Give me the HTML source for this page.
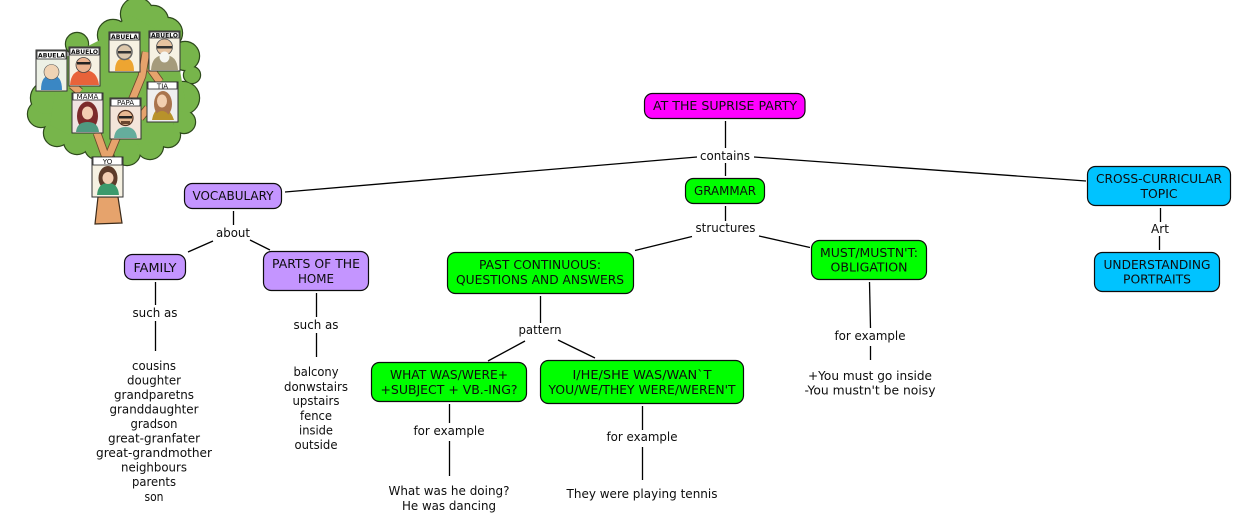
<!DOCTYPE html>
<html><head><meta charset="utf-8"><style>
html,body{margin:0;padding:0;background:#fff;width:1234px;height:523px;overflow:hidden}
svg{display:block;filter:blur(.3px)}
text{font-family:"DejaVu Sans","Liberation Sans",sans-serif;font-size:12.2px;fill:#0d0d0d;text-anchor:middle}
.b rect{stroke:#0c0c0c;stroke-width:1.2}
.l line{stroke:#000;stroke-width:1.3}
.f{stroke:#2e4a1c;stroke-width:2.4;fill:#2e4a1c}
.g{fill:#77b54b}
.p{fill:#f6f1e2;stroke:#333;stroke-width:1}
.s{fill:#fff;stroke:#222;stroke-width:.8}
text.t{font-size:6.5px;font-weight:bold}
.v{fill:none;stroke-linecap:butt}
</style></head><body>
<svg width="1234" height="523" viewBox="0 0 1234 523" xmlns="http://www.w3.org/2000/svg">
<!-- tree -->
<g class="f">
<circle cx="137" cy="14" r="16"/><circle cx="153" cy="21" r="15"/><circle cx="167" cy="33" r="15"/><circle cx="185" cy="56" r="14"/><circle cx="192" cy="75" r="8"/><circle cx="183" cy="98" r="16"/><circle cx="184" cy="122" r="11"/><circle cx="168" cy="135" r="12"/><circle cx="150" cy="146" r="13"/><circle cx="127" cy="152" r="13"/><circle cx="97" cy="147" r="12"/><circle cx="77" cy="141" r="13"/><circle cx="57" cy="133" r="13"/><circle cx="41" cy="114" r="13"/><circle cx="47" cy="98" r="16"/><circle cx="113" cy="35" r="15"/><circle cx="77" cy="44" r="11"/><circle cx="62" cy="75" r="18"/>
</g>
<g class="g">
<circle cx="137" cy="14" r="16"/><circle cx="153" cy="21" r="15"/><circle cx="167" cy="33" r="15"/><circle cx="185" cy="56" r="14"/><circle cx="192" cy="75" r="8"/><circle cx="183" cy="98" r="16"/><circle cx="184" cy="122" r="11"/><circle cx="168" cy="135" r="12"/><circle cx="150" cy="146" r="13"/><circle cx="127" cy="152" r="13"/><circle cx="97" cy="147" r="12"/><circle cx="77" cy="141" r="13"/><circle cx="57" cy="133" r="13"/><circle cx="41" cy="114" r="13"/><circle cx="47" cy="98" r="16"/><circle cx="113" cy="35" r="15"/><circle cx="77" cy="44" r="11"/><circle cx="62" cy="75" r="18"/>
<path d="M60 60L100 40L130 15L175 40L185 100L165 140L100 150L50 125Z"/>
</g>
<g class="v">
<path d="M97 133L106 158M108 158L142 76L146 52M150 68L160 82M140 118L148 108M72 85L80 92" stroke="#6b4a2c" stroke-width="8.500"/>
<path d="M97 133L106 158M108 158L142 76L146 52M150 68L160 82M140 118L148 108M72 85L80 92" stroke="#e6a36c" stroke-width="6.800"/>
</g>
<path d="M98 197L118 197L122 223L95 224Z" fill="#e6a36c" stroke="#3a2a1a" stroke-width="1.200"/>
<!-- portraits -->
<g>
<rect class="p" x="36" y="50" width="31" height="41" style="fill:#edf1e6"/><rect class="s" x="37" y="51" width="29" height="8"/><text class="t" x="51.500" y="57.500" textLength="27" lengthAdjust="spacingAndGlyphs">ABUELA</text>
<path d="M41 90q0-15 10.500-15T62 90Z" fill="#3a87c4"/><circle cx="51.500" cy="72" r="7.500" fill="#f0d3b4" stroke="#555" stroke-width=".6"/>
<rect class="p" x="69" y="47" width="31" height="39"/><rect class="s" x="70" y="48" width="29" height="7"/><text class="t" x="84.500" y="54" textLength="27" lengthAdjust="spacingAndGlyphs">ABUELO</text>
<path d="M70 85q1-15 14-15T99 85Z" fill="#e8633a"/><circle cx="83.500" cy="65" r="7.500" fill="#eab28f" stroke="#444" stroke-width=".8"/><rect x="77" y="62" width="13" height="2.500" fill="#222"/>
<rect class="p" x="109" y="32" width="31" height="40"/><rect class="s" x="110" y="33" width="29" height="7"/><text class="t" x="124.500" y="39" textLength="27" lengthAdjust="spacingAndGlyphs">ABUELA</text>
<path d="M115 71q0-13 9.500-13T134 71Z" fill="#eda531"/><circle cx="124.500" cy="52" r="7.500" fill="#dcc7ab" stroke="#666" stroke-width="1.500"/><rect x="118" y="51" width="13" height="2.500" fill="#333"/>
<rect class="p" x="149" y="31" width="31" height="40"/><rect class="s" x="150" y="32" width="29" height="6"/><text class="t" x="164.500" y="37.500" textLength="27" lengthAdjust="spacingAndGlyphs">ABUELO</text>
<path d="M151 70q1-15 13.500-15T178 70Z" fill="#a59b7b"/><circle cx="164.500" cy="47" r="8" fill="#e6c3a0" stroke="#555" stroke-width=".8"/><ellipse cx="164.500" cy="57" rx="5" ry="5.500" fill="#f5f5f0"/><rect x="157" y="46" width="15" height="2.500" fill="#333"/>
<rect class="p" x="147" y="82" width="31" height="40" style="fill:#efefef"/><rect class="s" x="148" y="82" width="29" height="7"/><text x="162.500" y="88.500" style="font-size:7px">TIA</text>
<path d="M152 120q2-12 10-12t12 12Z" fill="#b8922b"/><ellipse cx="163" cy="104" rx="9" ry="13" fill="#a9744d"/><ellipse cx="162" cy="101" rx="5" ry="6.500" fill="#f2cfb0"/><path d="M154 120q2-9 8-9t9 9Z" fill="#b8922b"/>
<rect class="p" x="72" y="93" width="31" height="40" style="fill:#f0e4e2"/><rect class="s" x="73" y="93" width="29" height="7"/><text x="87.500" y="99" style="font-size:7px">MAMÁ</text>
<ellipse cx="87.500" cy="116" rx="10.500" ry="14.500" fill="#7c2b2b"/><path d="M76 132q1-10 11.500-10T99 132Z" fill="#4f9a80"/><ellipse cx="87.500" cy="113" rx="5.500" ry="6.500" fill="#f3cdb2"/>
<rect class="p" x="110" y="98" width="31" height="41" style="fill:#f4e5da"/><rect class="s" x="111" y="99" width="29" height="7"/><text x="125.500" y="105" style="font-size:7px">PAPÁ</text>
<path d="M114 138q1-11 11.500-11T137 138Z" fill="#65ad9c"/><circle cx="125.500" cy="118" r="7.500" fill="#e7b993" stroke="#553322" stroke-width="1.200"/><rect x="119" y="116" width="13" height="2.500" fill="#222"/><rect x="121" y="121" width="9" height="3" fill="#6b4630"/>
<rect class="p" x="92" y="157" width="31" height="40"/><rect class="s" x="93" y="157" width="29" height="8"/><text x="107.500" y="164" style="font-size:7px">YO</text>
<ellipse cx="108" cy="178" rx="9.500" ry="12" fill="#5d3b2a"/><path d="M97 195q1-12 11-12t11 12Z" fill="#3c9a6c"/><ellipse cx="108" cy="178" rx="5.500" ry="6" fill="#f3cdb2"/>
</g>
<!-- connectors -->
<g class="l">
<line x1="725.500" y1="121" x2="725.500" y2="148"/><line x1="725.500" y1="163" x2="725.500" y2="176"/>
<line x1="697" y1="157" x2="285" y2="192"/><line x1="754" y1="157" x2="1086" y2="181"/>
<line x1="725.500" y1="206" x2="725.500" y2="221"/><line x1="692" y1="236.500" x2="635" y2="250.500"/><line x1="759" y1="236" x2="810" y2="247.500"/>
<line x1="869.500" y1="282" x2="870.500" y2="328"/><line x1="870.500" y1="346" x2="870.500" y2="360"/>
<line x1="233.500" y1="211" x2="233.500" y2="225"/><line x1="213" y1="241" x2="188" y2="252"/><line x1="250" y1="240" x2="270" y2="250"/>
<line x1="155.500" y1="282" x2="155.500" y2="305"/><line x1="155.500" y1="321" x2="155.500" y2="351"/>
<line x1="316.500" y1="293" x2="316.500" y2="317"/><line x1="316.500" y1="333" x2="316.500" y2="357"/>
<line x1="540.500" y1="296" x2="540.500" y2="323"/><line x1="525" y1="341" x2="488" y2="361"/><line x1="558" y1="340" x2="595" y2="358"/>
<line x1="449.500" y1="404" x2="449.500" y2="423"/><line x1="449.500" y1="441" x2="449.500" y2="476"/>
<line x1="642.500" y1="406" x2="642.500" y2="430"/><line x1="642.500" y1="447" x2="642.500" y2="480"/>
<line x1="1160.500" y1="208" x2="1160.500" y2="222"/><line x1="1159.500" y1="236" x2="1159.500" y2="250"/>
</g>
<!-- nodes -->
<g class="b">
<rect x="644.500" y="93.500" width="160.500" height="25" rx="8" fill="#ff00ff"/>
<rect x="685.500" y="178.500" width="79" height="25" rx="8" fill="#00ff00"/>
<rect x="811.500" y="240.500" width="115" height="39" rx="8" fill="#00ff00"/>
<rect x="447.500" y="252.500" width="186" height="41" rx="8" fill="#00ff00"/>
<rect x="184.500" y="183.500" width="97" height="25" rx="8" fill="#c495ff"/>
<rect x="124.500" y="254.500" width="61" height="25" rx="8" fill="#c495ff"/>
<rect x="263.500" y="251.500" width="105" height="39" rx="8" fill="#c495ff"/>
<rect x="371.500" y="362.500" width="155" height="39" rx="8" fill="#00ff00"/>
<rect x="540.500" y="360.500" width="203" height="43" rx="8" fill="#00ff00"/>
<rect x="1087.500" y="166.500" width="143" height="39" rx="8" fill="#00c3ff"/>
<rect x="1094.500" y="252.500" width="125" height="39" rx="8" fill="#00c3ff"/>
</g>
<!-- text -->
<g>
<text x="725" y="110" textLength="144" lengthAdjust="spacingAndGlyphs">AT THE SUPRISE PARTY</text>
<text x="725" y="160" textLength="50" lengthAdjust="spacingAndGlyphs">contains</text>
<text x="725" y="195" textLength="62" lengthAdjust="spacingAndGlyphs">GRAMMAR</text>
<text x="725.500" y="232" textLength="60" lengthAdjust="spacingAndGlyphs">structures</text>
<text x="869" y="257" textLength="98" lengthAdjust="spacingAndGlyphs">MUST/MUSTN'T:</text>
<text x="869" y="271.500" textLength="77" lengthAdjust="spacingAndGlyphs">OBLIGATION</text>
<text x="233" y="200" textLength="81" lengthAdjust="spacingAndGlyphs">VOCABULARY</text>
<text x="233" y="237" textLength="34" lengthAdjust="spacingAndGlyphs">about</text>
<text x="155" y="272" textLength="43" lengthAdjust="spacingAndGlyphs">FAMILY</text>
<text x="316" y="268" textLength="88" lengthAdjust="spacingAndGlyphs">PARTS OF THE</text>
<text x="316" y="283" textLength="36" lengthAdjust="spacingAndGlyphs">HOME</text>
<text x="155" y="317" textLength="45" lengthAdjust="spacingAndGlyphs">such as</text>
<text x="316" y="329" textLength="45" lengthAdjust="spacingAndGlyphs">such as</text>
<text x="540" y="269" textLength="122" lengthAdjust="spacingAndGlyphs">PAST CONTINUOUS:</text>
<text x="540" y="284" textLength="168" lengthAdjust="spacingAndGlyphs">QUESTIONS AND ANSWERS</text>
<text x="540" y="334" textLength="43" lengthAdjust="spacingAndGlyphs">pattern</text>
<text x="449" y="379" textLength="118" lengthAdjust="spacingAndGlyphs">WHAT WAS/WERE+</text>
<text x="449" y="394" textLength="137" lengthAdjust="spacingAndGlyphs">+SUBJECT + VB.-ING?</text>
<text x="642" y="379" textLength="139" lengthAdjust="spacingAndGlyphs">I/HE/SHE WAS/WAN`T</text>
<text x="642" y="394" textLength="187" lengthAdjust="spacingAndGlyphs">YOU/WE/THEY WERE/WEREN'T</text>
<text x="449" y="435" textLength="71" lengthAdjust="spacingAndGlyphs">for example</text>
<text x="642" y="441" textLength="71" lengthAdjust="spacingAndGlyphs">for example</text>
<text x="870" y="340" textLength="71" lengthAdjust="spacingAndGlyphs">for example</text>
<text x="449" y="495" textLength="121" lengthAdjust="spacingAndGlyphs">What was he doing?</text>
<text x="449" y="510" textLength="94" lengthAdjust="spacingAndGlyphs">He was dancing</text>
<text x="642" y="498" textLength="151" lengthAdjust="spacingAndGlyphs">They were playing tennis</text>
<text x="870" y="380" textLength="124" lengthAdjust="spacingAndGlyphs">+You must go inside</text>
<text x="870" y="394.500" textLength="131" lengthAdjust="spacingAndGlyphs">-You mustn't be noisy</text>
<text x="1159" y="183" textLength="126" lengthAdjust="spacingAndGlyphs">CROSS-CURRICULAR</text>
<text x="1159" y="198" textLength="37" lengthAdjust="spacingAndGlyphs">TOPIC</text>
<text x="1160" y="233" textLength="18" lengthAdjust="spacingAndGlyphs">Art</text>
<text x="1157" y="269" textLength="107" lengthAdjust="spacingAndGlyphs">UNDERSTANDING</text>
<text x="1157" y="283.500" textLength="68" lengthAdjust="spacingAndGlyphs">PORTRAITS</text>
<text x="154" y="370" textLength="44" lengthAdjust="spacingAndGlyphs">cousins</text>
<text x="154" y="384.500" textLength="54" lengthAdjust="spacingAndGlyphs">doughter</text>
<text x="154" y="399" textLength="80" lengthAdjust="spacingAndGlyphs">grandparetns</text>
<text x="154" y="413.500" textLength="89" lengthAdjust="spacingAndGlyphs">granddaughter</text>
<text x="154" y="428" textLength="47" lengthAdjust="spacingAndGlyphs">gradson</text>
<text x="154" y="442.500" textLength="92" lengthAdjust="spacingAndGlyphs">great-granfater</text>
<text x="154" y="457" textLength="116" lengthAdjust="spacingAndGlyphs">great-grandmother</text>
<text x="154" y="471.500" textLength="66" lengthAdjust="spacingAndGlyphs">neighbours</text>
<text x="154" y="486" textLength="44" lengthAdjust="spacingAndGlyphs">parents</text>
<text x="154" y="501" textLength="19" lengthAdjust="spacingAndGlyphs">son</text>
<text x="316" y="376" textLength="45" lengthAdjust="spacingAndGlyphs">balcony</text>
<text x="316" y="391" textLength="64" lengthAdjust="spacingAndGlyphs">donwstairs</text>
<text x="316" y="405" textLength="47" lengthAdjust="spacingAndGlyphs">upstairs</text>
<text x="316" y="420" textLength="32" lengthAdjust="spacingAndGlyphs">fence</text>
<text x="316" y="434.500" textLength="34" lengthAdjust="spacingAndGlyphs">inside</text>
<text x="316" y="449" textLength="43" lengthAdjust="spacingAndGlyphs">outside</text>
</g>
</svg>
</body></html>
